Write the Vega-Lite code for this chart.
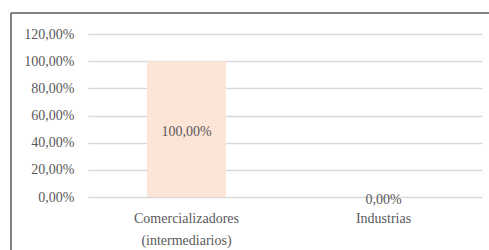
{
  "$schema": "https://vega.github.io/schema/vega-lite/v6.json",
  "autosize": "none",
  "width": 478,
  "height": 237,
  "padding": {"left": 11, "top": 13, "right": 0, "bottom": 0},
  "background": "white",
  "config": {
    "locale": {"number": {"decimal": ",", "thousands": ".", "grouping": [3], "currency": ["", " €"]}},
    "font": "Liberation Serif",
    "view": {"stroke": "#595959", "strokeWidth": 1.5, "strokeDash": [478, 715, 237, 0]}
  },
  "data": {
    "values": [
      {"category": "Comercializadores\n(intermediarios)", "value": 1.0},
      {"category": "Industrias", "value": 0.0}
    ]
  },
  "layer": [
    {
      "mark": {"type": "bar", "color": "#FCE4D6"},
      "encoding": {
        "x": {
          "field": "category", "type": "nominal", "sort": null,
          "scale": {"range": [77, 471], "paddingInner": 0.6, "paddingOuter": 0.3},
          "axis": {
            "title": null, "orient": "bottom", "offset": -53, "domain": false, "ticks": false, "grid": false,
            "labelAngle": 0, "labelFont": "Liberation Serif", "labelFontSize": 14, "labelColor": "#595959",
            "labelPadding": 14, "labelLineHeight": 22, "labelExpr": "split(datum.label, '\\n')"
          }
        },
        "y": {
          "field": "value", "type": "quantitative",
          "scale": {"domain": [0, 1.2], "range": [184, 21], "nice": false, "zero": true},
          "axis": {
            "title": null, "orient": "left", "offset": -67, "domain": false, "ticks": false,
            "values": [0, 0.2, 0.4, 0.6, 0.8, 1.0, 1.2], "format": ".2%", "labelOverlap": false,
            "labelFont": "Liberation Serif", "labelFontSize": 14, "labelColor": "#595959", "labelPadding": 4,
            "grid": true, "gridColor": "#D9D9D9", "gridWidth": 1.3
          }
        }
      }
    },
    {
      "transform": [{"calculate": "datum.value / 2", "as": "mid"}],
      "mark": {"type": "text", "font": "Liberation Serif", "fontSize": 14, "color": "#595959", "baseline": "middle", "dy": 3},
      "encoding": {
        "x": {"field": "category", "type": "nominal", "sort": null},
        "y": {
          "field": "mid", "type": "quantitative",
          "axis": {
            "title": null, "orient": "left", "offset": -67, "domain": false, "ticks": false,
            "values": [0, 0.2, 0.4, 0.6, 0.8, 1.0, 1.2], "format": ".2%", "labelOverlap": false,
            "labelFont": "Liberation Serif", "labelFontSize": 14, "labelColor": "#595959", "labelPadding": 4,
            "grid": true, "gridColor": "#D9D9D9", "gridWidth": 1.3
          }
        },
        "text": {"field": "value", "type": "quantitative", "format": ".2%"}
      }
    }
  ]
}
